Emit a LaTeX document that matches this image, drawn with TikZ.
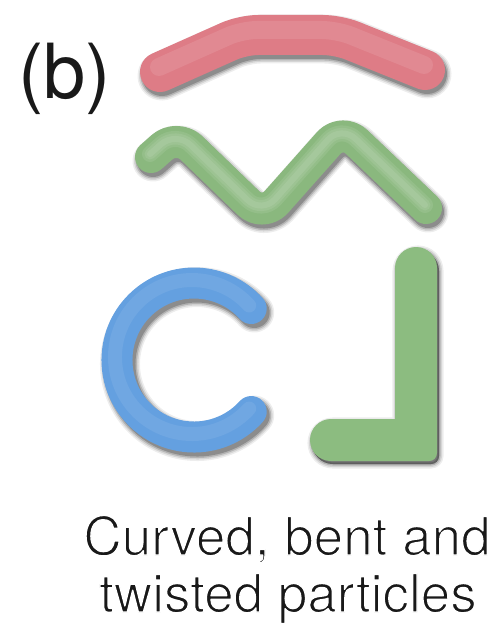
\documentclass[tikz,border=0pt]{standalone}
\usepackage{fontspec}
\setmainfont{TeX Gyre Heros}
\definecolor{rodred}{RGB}{222,124,134}
\definecolor{wavegreen}{RGB}{138,184,126}
\definecolor{arcblue}{RGB}{100,160,224}
\definecolor{elgreen}{RGB}{140,188,128}
\definecolor{ink}{RGB}{25,25,25}
% light caption weight: glyphs are filled, then trimmed by a thin white outline
\newcommand{\lighttext}{\special{pdf:literal direct 2 Tr 1.4 w 1 j 1 1 1 RG}}
\begin{document}
\begin{tikzpicture}[x=1pt,y=-1pt,
  tube/.style={line cap=round,line join=round},
  label/.style={inner sep=0pt,text=ink}]
\useasboundingbox (0,0) rectangle (498,626);

% panel tag
\node[label,font=\fontsize{76}{76}\selectfont,anchor=base west] (tag) at (18,98) {(b)};

% centre lines of the particles
\def\rodpath{(160,72) -- (243,35) -- (338,35) -- (425,70)}
\def\wavepath{(151,157) -- (177,134) -- (263,217) -- (342,128) -- (426,208)}
\def\arcpath{(251.2,308.5) arc[start angle=-42,end angle=-318,radius=77]}
\def\elpath{(331,419) -- (395,419) -- (395,268)
  arc[start angle=180,end angle=360,radius=21] -- (437,453)
  arc[start angle=0,end angle=90,radius=8] -- (331,461)
  arc[start angle=90,end angle=270,radius=21] -- cycle}

% soft drop shadows
\foreach \w/\o in {9/0.07,6/0.1,3/0.16,0/0.22}{
  \draw[tube,black,opacity=\o,line width=40+\w,shift={(2,4)},rounded corners=15] \rodpath;
  \draw[tube,black,opacity=\o,line width=32+\w,shift={(2,4)},rounded corners=20] \wavepath;
  \draw[tube,black,opacity=\o,line width=31+\w,shift={(3,4)}] \arcpath;
  \draw[black,opacity=\o,line width=\w+0.1,line join=round,shift={(2,3)},fill=black,fill opacity=\o] \elpath;
}

% bodies
\draw[tube,rodred,line width=40,rounded corners=15] \rodpath;
\draw[tube,wavegreen,line width=32,rounded corners=20] \wavepath;
\draw[tube,arcblue,line width=31] \arcpath;
\fill[elgreen] \elpath;

% shading highlights
\draw[tube,white,opacity=0.1,line width=18,shift={(-1,-5)},rounded corners=15] \rodpath;
\foreach \w in {16,11,6}{
  \draw[tube,white,opacity=0.09,line width=\w,shift={(-1,-3)},rounded corners=20] \wavepath;
}
\draw[tube,white,opacity=0.08,line width=14,shift={(-2,-3)}] \arcpath;

% caption
\node[label,font=\fontsize{53}{57}\selectfont,anchor=base] (cap1) at (287,555) {\lighttext Curved, bent and};
\node[label,font=\fontsize{53}{57}\selectfont,anchor=base] (cap2) at (288,612) {\lighttext twisted particles};
\end{tikzpicture}
\end{document}
